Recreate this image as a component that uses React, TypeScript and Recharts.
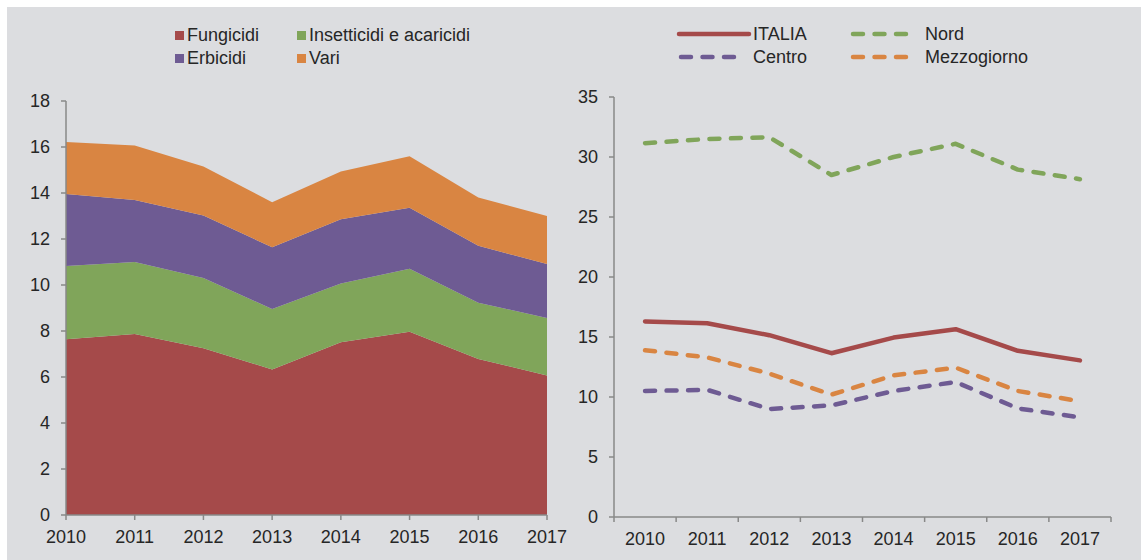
import React from "react";
import { AreaChart, Area, LineChart, Line, XAxis, YAxis } from "recharts";

const years = ["2010", "2011", "2012", "2013", "2014", "2015", "2016", "2017"];

// left panel: stacked categories
const fungicidi = [7.64, 7.87, 7.25, 6.33, 7.51, 7.97, 6.78, 6.07];
const insetticidi = [3.19, 3.13, 3.05, 2.63, 2.56, 2.74, 2.45, 2.5];
const erbicidi = [3.13, 2.7, 2.72, 2.68, 2.79, 2.65, 2.48, 2.34];
const vari = [2.26, 2.37, 2.13, 1.96, 2.07, 2.24, 2.09, 2.09];
const leftTicks = [0, 2, 4, 6, 8, 10, 12, 14, 16, 18];

// right panel: areas
const italia = [16.3, 16.15, 15.15, 13.65, 14.95, 15.65, 13.85, 13.05];
const nord = [31.15, 31.5, 31.65, 28.5, 30.0, 31.1, 28.95, 28.15];
const centro = [10.5, 10.6, 9.0, 9.3, 10.5, 11.25, 9.05, 8.3];
const mezzogiorno = [13.9, 13.3, 11.95, 10.2, 11.8, 12.45, 10.5, 9.65];
const rightTicks = [0, 5, 10, 15, 20, 25, 30, 35];

const FONT = "'Liberation Sans', Arial, sans-serif";
const TEXT = "#262626";
const AXIS = "#888888";
const BG = "#dcdde0";

const RED = "#a54a4a";
const GREEN = "#80a55a";
const PURPLE = "#6e5b93";
const ORANGE = "#d98542";

const stackData = years.map((year, i) => ({
  year,
  fungicidi: fungicidi[i],
  insetticidi: insetticidi[i],
  erbicidi: erbicidi[i],
  vari: vari[i],
}));

const lineData = years.map((year, i) => ({
  year,
  italia: italia[i],
  nord: nord[i],
  centro: centro[i],
  mezzogiorno: mezzogiorno[i],
}));

const areaSeries = [
  { key: "fungicidi", name: "Fungicidi", color: RED },
  { key: "insetticidi", name: "Insetticidi e acaricidi", color: GREEN },
  { key: "erbicidi", name: "Erbicidi", color: PURPLE },
  { key: "vari", name: "Vari", color: ORANGE },
];

const lineSeries = [
  { key: "italia", name: "ITALIA", color: RED, dashed: false },
  { key: "nord", name: "Nord", color: GREEN, dashed: true },
  { key: "centro", name: "Centro", color: PURPLE, dashed: true },
  { key: "mezzogiorno", name: "Mezzogiorno", color: ORANGE, dashed: true },
];

const tickStyle = { fill: TEXT, fontSize: 18, fontFamily: FONT };

// band axis: label in the middle, tick marks on the band edges
function BandTick(props: any) {
  const { x, y, payload, index, visibleTicksCount } = props;
  const half = payload && payload.offset ? payload.offset : 31;
  const y1 = y - 15;
  const y2 = y - 10;
  const last = index === visibleTicksCount - 1;
  return (
    <g>
      <line x1={x - half} x2={x - half} y1={y1} y2={y2} stroke={AXIS} strokeWidth={1.5} />
      {last && <line x1={x + half} x2={x + half} y1={y1} y2={y2} stroke={AXIS} strokeWidth={1.5} />}
      <text x={x} y={y} dy="0.71em" textAnchor="middle" {...tickStyle}>
        {payload.value}
      </text>
    </g>
  );
}

const legendText: React.CSSProperties = {
  position: "absolute",
  fontFamily: FONT,
  fontSize: 18,
  color: TEXT,
  lineHeight: "20px",
  whiteSpace: "nowrap",
};

export default function App() {
  const areaCols = [175, 297];
  const areaRows = [25, 48];
  const lineCols = [679, 851];
  const lineRows = [24, 47];

  return (
    <div style={{ position: "absolute", left: 0, top: 0, width: 1147, height: 560, background: "#ffffff" }}>
      <div style={{ position: "absolute", left: 7, top: 7, width: 1134, height: 553, background: BG }} />

      {/* left legend */}
      {areaSeries.map((s, i) => {
        const left = areaCols[i % 2];
        const top = areaRows[Math.floor(i / 2)];
        return (
          <div key={s.key}>
            <div style={{ position: "absolute", left, top: top + 6, width: 9, height: 9, background: s.color }} />
            <div style={{ ...legendText, left: left + 12, top }}>{s.name}</div>
          </div>
        );
      })}

      {/* right legend */}
      {lineSeries.map((s, i) => {
        const left = lineCols[i % 2];
        const top = lineRows[Math.floor(i / 2)];
        return (
          <div key={s.key}>
            <svg style={{ position: "absolute", left: left - 3, top: top + 4 }} width={78} height={12}>
              {s.dashed ? (
                <line x1={5} x2={63} y1={6} y2={6} stroke={s.color} strokeWidth={4.5} strokeLinecap="round" strokeDasharray="10 11.5" />
              ) : (
                <line x1={3} x2={73} y1={6} y2={6} stroke={s.color} strokeWidth={4.5} strokeLinecap="round" />
              )}
            </svg>
            <div style={{ ...legendText, left: s.dashed ? left + 74 : left + 74, top }}>{s.name}</div>
          </div>
        );
      })}

      <div style={{ position: "absolute", left: 0, top: 0 }}>
        <AreaChart width={570} height={560} data={stackData} margin={{ top: 101, right: 23, bottom: 15, left: 0 }}>
          <XAxis
            dataKey="year"
            tick={tickStyle}
            tickSize={5}
            tickMargin={10}
            height={30}
            interval={0}
            axisLine={{ stroke: AXIS, strokeWidth: 1.5 }}
            tickLine={{ stroke: AXIS, strokeWidth: 1.5 }}
          />
          <YAxis
            domain={[0, 18]}
            ticks={leftTicks}
            interval={0}
            width={66}
            tick={tickStyle}
            tickSize={5}
            tickMargin={11}
            axisLine={{ stroke: AXIS, strokeWidth: 1.5 }}
            tickLine={{ stroke: AXIS, strokeWidth: 1.5 }}
          />
          {areaSeries.map((s) => (
            <Area
              key={s.key}
              type="linear"
              dataKey={s.key}
              name={s.name}
              stackId="tot"
              stroke="none"
              fill={s.color}
              fillOpacity={1}
              isAnimationActive={false}
            />
          ))}
        </AreaChart>
      </div>

      <div style={{ position: "absolute", left: 570, top: 0 }}>
        <LineChart width={577} height={560} data={lineData} margin={{ top: 97, right: 36, bottom: 13, left: 0 }}>
          <XAxis
            dataKey="year"
            scale="band"
            interval={0}
            height={30}
            tickSize={5}
            tickMargin={10}
            tick={<BandTick />}
            tickLine={false}
            axisLine={{ stroke: AXIS, strokeWidth: 1.5 }}
          />
          <YAxis
            domain={[0, 35]}
            ticks={rightTicks}
            interval={0}
            width={44}
            tick={tickStyle}
            tickSize={5}
            tickMargin={11}
            axisLine={{ stroke: AXIS, strokeWidth: 1.5 }}
            tickLine={{ stroke: AXIS, strokeWidth: 1.5 }}
          />
          {lineSeries.map((s) => (
            <Line
              key={s.key}
              type="linear"
              dataKey={s.key}
              name={s.name}
              stroke={s.color}
              strokeWidth={4.5}
              strokeDasharray={s.dashed ? "10 11.5" : undefined}
              strokeLinecap="round"
              strokeLinejoin="round"
              dot={false}
              activeDot={false}
              isAnimationActive={false}
            />
          ))}
        </LineChart>
      </div>
    </div>
  );
}
